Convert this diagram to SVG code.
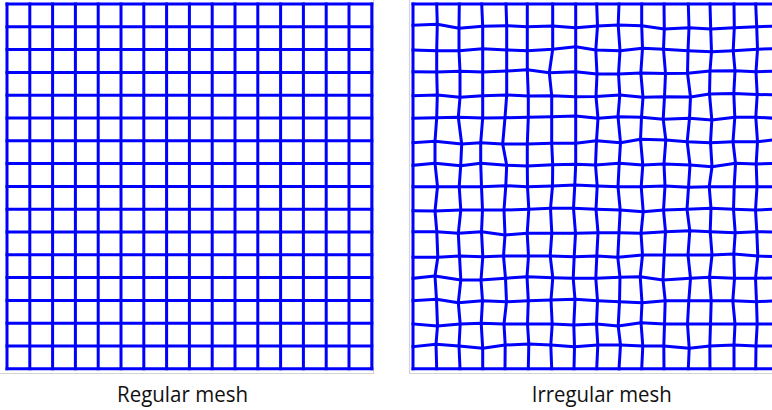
<svg xmlns="http://www.w3.org/2000/svg" width="772" height="410" viewBox="0 0 772 410">
<style>
.g{fill:none;stroke:#0000ff;stroke-width:3;stroke-linecap:square;stroke-linejoin:round}
.f{fill:none;stroke:#d4d4d4;stroke-width:1.2}
.t{font-family:"Open Sans","Noto Sans","Liberation Sans",sans-serif;font-size:22px;fill:#111}
</style>
<rect width="772" height="410" fill="#fff"/>
<g id="regular-mesh">
<path class="f" d="M373.5 0V373.5H0"/>
<path class="g" d="M7 4V368.8M29.8 4V368.8M52.6 4V368.8M75.4 4V368.8M98.2 4V368.8M121 4V368.8M143.8 4V368.8M166.6 4V368.8M189.4 4V368.8M212.2 4V368.8M235 4V368.8M257.8 4V368.8M280.6 4V368.8M303.4 4V368.8M326.2 4V368.8M349 4V368.8M371.8 4V368.8"/>
<path class="g" d="M7 4H371.8M7 26.8H371.8M7 49.6H371.8M7 72.4H371.8M7 95.2H371.8M7 118H371.8M7 140.8H371.8M7 163.6H371.8M7 186.4H371.8M7 209.2H371.8M7 232H371.8M7 254.8H371.8M7 277.6H371.8M7 300.4H371.8M7 323.2H371.8M7 346H371.8M7 368.8H371.8"/>
<text class="t" x="117" y="402" textLength="131" lengthAdjust="spacingAndGlyphs">Regular mesh</text>
</g>
<g id="irregular-mesh">
<path class="f" d="M409.5 0V373.5H772"/>
<g id="rows">
<polyline class="g" points="413,4 779.4,4"/>
<polyline class="g" points="413,25.3 437.3,24.3 459,28.3 482.7,26.3 506.7,25.7 527.3,26.7 552.7,26 575.7,27.7 597.5,26 618.2,25 641.7,25.7 664.3,29 689,27.7 710.7,29 734.3,27.7 756.7,26.7 779.4,26"/>
<polyline class="g" points="413,50 436.7,50.7 459,50.7 482.7,48.7 506.7,50 527.3,50.7 552.7,49.3 575.7,46.7 595.8,50 620,50.7 642.5,48.3 663.5,49.3 688,50.7 711.5,51.7 733.2,50.7 757.5,49.3 779.4,48.3"/>
<polyline class="g" points="413,71.7 436.7,72 460,71.3 482.7,72 506.7,71 527.3,69.7 549.3,72.7 575.7,71.7 597,74 618.5,74 640.8,73 665.5,73.5 687.5,73.3 710,71 735,70.7 756,71.7 779.4,71"/>
<polyline class="g" points="413,95.7 437.3,95 460,97.3 482.7,95.7 506.7,95 528.3,96 551.7,95.7 575.7,96.7 596,96.5 619.8,95 643,97.3 664.5,96.7 690.5,97 709.5,94 733.8,93.5 757.2,94.5 779.4,95"/>
<polyline class="g" points="413,118.3 436.7,117.7 458.3,117.3 482.7,118 505,117.7 528.3,117.3 551.7,116.7 575.7,116 598,118.3 618,116.7 641.5,117.3 663.2,119.3 689.5,118.3 711.8,120 734.8,117.3 755.8,117.3 779.4,118.5"/>
<polyline class="g" points="413,142.7 435,141.3 461.7,144 480.7,142.7 502.7,144 527.3,144 551.7,143.3 575.7,143.3 596.5,140.7 620.5,142.7 640.5,139.3 665.8,140 687.2,141.7 710.5,142.7 733,141.7 757.5,141.7 779.4,139.3"/>
<polyline class="g" points="413,165.3 435,163.3 460.7,165.7 480.7,163.3 506.7,165.3 527.3,166 552.7,164.7 575.7,164.3 595.5,165 619.2,163.3 642.8,165 664,164 690,165 712,166.7 735.5,163.3 756.2,164 779.4,163.3"/>
<polyline class="g" points="413,186.7 437.5,186.7 459.2,186.7 481.5,186.7 505.8,185.7 527.5,186.7 552.5,186 574.8,185 597.2,186 618,186.7 641.2,186.7 665,186 688.5,187.3 709.2,186.7 734.2,186.7 757,186.7 779.4,186.7"/>
<polyline class="g" points="413,210.7 435,211 460.8,210 482.5,210 504,210 528.8,209.3 550.5,208.3 573.5,208.3 596,209.3 620.2,210 643.2,211.7 663.5,210 687,209.3 711,208.3 733.5,209.3 755.5,210 779.4,209"/>
<polyline class="g" points="413,231.7 436.8,231.7 458.3,233.3 481.5,231.7 505,235 527.2,233.3 551.8,233.3 575.5,233.3 598,232.7 619,232.7 641,233.3 665.5,231.7 689.8,230.7 710.2,231.7 735.2,232.7 756.8,231.7 779.4,232"/>
<polyline class="g" points="413,257.3 437.8,257.3 459.5,256 482.8,256.7 503.5,256 528.5,256 550.2,256 574.2,256.7 596.8,256 617.8,257.3 642.5,255 664.2,255 688,255 712,255 733.8,254 757.8,256 779.4,256.7"/>
<polyline class="g" points="413,278.3 435,276 460.8,280 481,280 505.5,278.3 527,276.7 552.8,277.7 573.2,278.3 595.8,278.3 620,277.3 640.2,276.7 663,280 690.5,278.3 709.5,277.3 734.5,278.3 755.5,278.3 779.4,277.7"/>
<polyline class="g" points="413,300.7 436.5,299.3 458.3,302.7 482.5,300.7 506.5,301.7 528.3,300.7 551,300 575,299.3 597.5,300.7 619.5,301.7 642,302.7 665.2,300.7 688.8,300.7 711.2,300.7 732.8,300.7 756.5,301.7 779.4,300.7"/>
<polyline class="g" points="413,324 437.5,326 460.2,324 481.2,323.3 504,324 527.5,324 552.2,324 573.8,325 596.5,324 618.2,326 641,322.7 664.5,324 687.5,324 710.5,324 735,324 757.2,324 779.4,324"/>
<polyline class="g" points="413,346.7 436,344.3 459,346 482.7,348.3 505.2,345 528.8,344 550.8,345 574.5,346.7 597.8,345 620.5,345 642.8,346 663.8,346 689.2,348.3 709.8,346 734,345 756,346 779.4,346"/>
<polyline class="g" points="413,368.8 779.4,368.8"/>
</g>
<g id="columns">
<polyline class="g" points="413,4 413,368.8"/>
<polyline class="g" points="436.7,4 437.3,24.3 436.7,50.7 436.7,72 437.3,95 436.7,117.7 435,141.3 435,163.3 437.5,186.7 435,211 436.8,231.7 437.8,257.3 435,276 436.5,299.3 437.5,326 436,344.3 436.7,368.8"/>
<polyline class="g" points="459.3,4 459,28.3 459,50.7 460,71.3 460,97.3 458.3,117.3 461.7,144 460.7,165.7 459.2,186.7 460.8,210 458.3,233.3 459.5,256 460.8,280 458.3,302.7 460.2,324 459,346 460,368.8"/>
<polyline class="g" points="481.7,4 482.7,26.3 482.7,48.7 482.7,72 482.7,95.7 482.7,118 480.7,142.7 480.7,163.3 481.5,186.7 482.5,210 481.5,231.7 482.8,256.7 481,280 482.5,300.7 481.2,323.3 482.7,348.3 482.7,368.8"/>
<polyline class="g" points="506,4 506.7,25.7 506.7,50 506.7,71 506.7,95 505,117.7 502.7,144 506.7,165.3 505.8,185.7 504,210 505,235 503.5,256 505.5,278.3 506.5,301.7 504,324 505.2,345 505,368.8"/>
<polyline class="g" points="527.3,4 527.3,26.7 527.3,50.7 527.3,69.7 528.3,96 528.3,117.3 527.3,144 527.3,166 527.5,186.7 528.8,209.3 527.2,233.3 528.5,256 527,276.7 528.3,300.7 527.5,324 528.8,344 528.3,368.8"/>
<polyline class="g" points="552.7,4 552.7,26 552.7,49.3 549.3,72.7 551.7,95.7 551.7,116.7 551.7,143.3 552.7,164.7 552.5,186 550.5,208.3 551.8,233.3 550.2,256 552.8,277.7 551,300 552.2,324 550.8,345 551.7,368.8"/>
<polyline class="g" points="575.7,4 575.7,27.7 575.7,46.7 575.7,71.7 575.7,96.7 575.7,116 575.7,143.3 575.7,164.3 574.8,185 573.5,208.3 575.5,233.3 574.2,256.7 573.2,278.3 575,299.3 573.8,325 574.5,346.7 574,368.8"/>
<polyline class="g" points="596.7,4 597.5,26 595.8,50 597,74 596,96.5 598,118.3 596.5,140.7 595.5,165 597.2,186 596,209.3 598,232.7 596.8,256 595.8,278.3 597.5,300.7 596.5,324 597.8,345 596.7,368.8"/>
<polyline class="g" points="619,4 618.2,25 620,50.7 618.5,74 619.8,95 618,116.7 620.5,142.7 619.2,163.3 618,186.7 620.2,210 619,232.7 617.8,257.3 620,277.3 619.5,301.7 618.2,326 620.5,345 619,368.8"/>
<polyline class="g" points="641.7,4 641.7,25.7 642.5,48.3 640.8,73 643,97.3 641.5,117.3 640.5,139.3 642.8,165 641.2,186.7 643.2,211.7 641,233.3 642.5,255 640.2,276.7 642,302.7 641,322.7 642.8,346 641.7,368.8"/>
<polyline class="g" points="664,4 664.3,29 663.5,49.3 665.5,73.5 664.5,96.7 663.2,119.3 665.8,140 664,164 665,186 663.5,210 665.5,231.7 664.2,255 663,280 665.2,300.7 664.5,324 663.8,346 664,368.8"/>
<polyline class="g" points="688.3,4 689,27.7 688,50.7 687.5,73.3 690.5,97 689.5,118.3 687.2,141.7 690,165 688.5,187.3 687,209.3 689.8,230.7 688,255 690.5,278.3 688.8,300.7 687.5,324 689.2,348.3 688.3,368.8"/>
<polyline class="g" points="710,4 710.7,29 711.5,51.7 710,71 709.5,94 711.8,120 710.5,142.7 712,166.7 709.2,186.7 711,208.3 710.2,231.7 712,255 709.5,277.3 711.2,300.7 710.5,324 709.8,346 710,368.8"/>
<polyline class="g" points="734,4 734.3,27.7 733.2,50.7 735,70.7 733.8,93.5 734.8,117.3 733,141.7 735.5,163.3 734.2,186.7 733.5,209.3 735.2,232.7 733.8,254 734.5,278.3 732.8,300.7 735,324 734,345 734,368.8"/>
<polyline class="g" points="755.7,4 756.7,26.7 757.5,49.3 756,71.7 757.2,94.5 755.8,117.3 757.5,141.7 756.2,164 757,186.7 755.5,210 756.8,231.7 757.8,256 755.5,278.3 756.5,301.7 757.2,324 756,346 755.7,368.8"/>
</g>
<text class="t" x="531.7" y="402" textLength="140" lengthAdjust="spacingAndGlyphs">Irregular mesh</text>
</g>
</svg>
